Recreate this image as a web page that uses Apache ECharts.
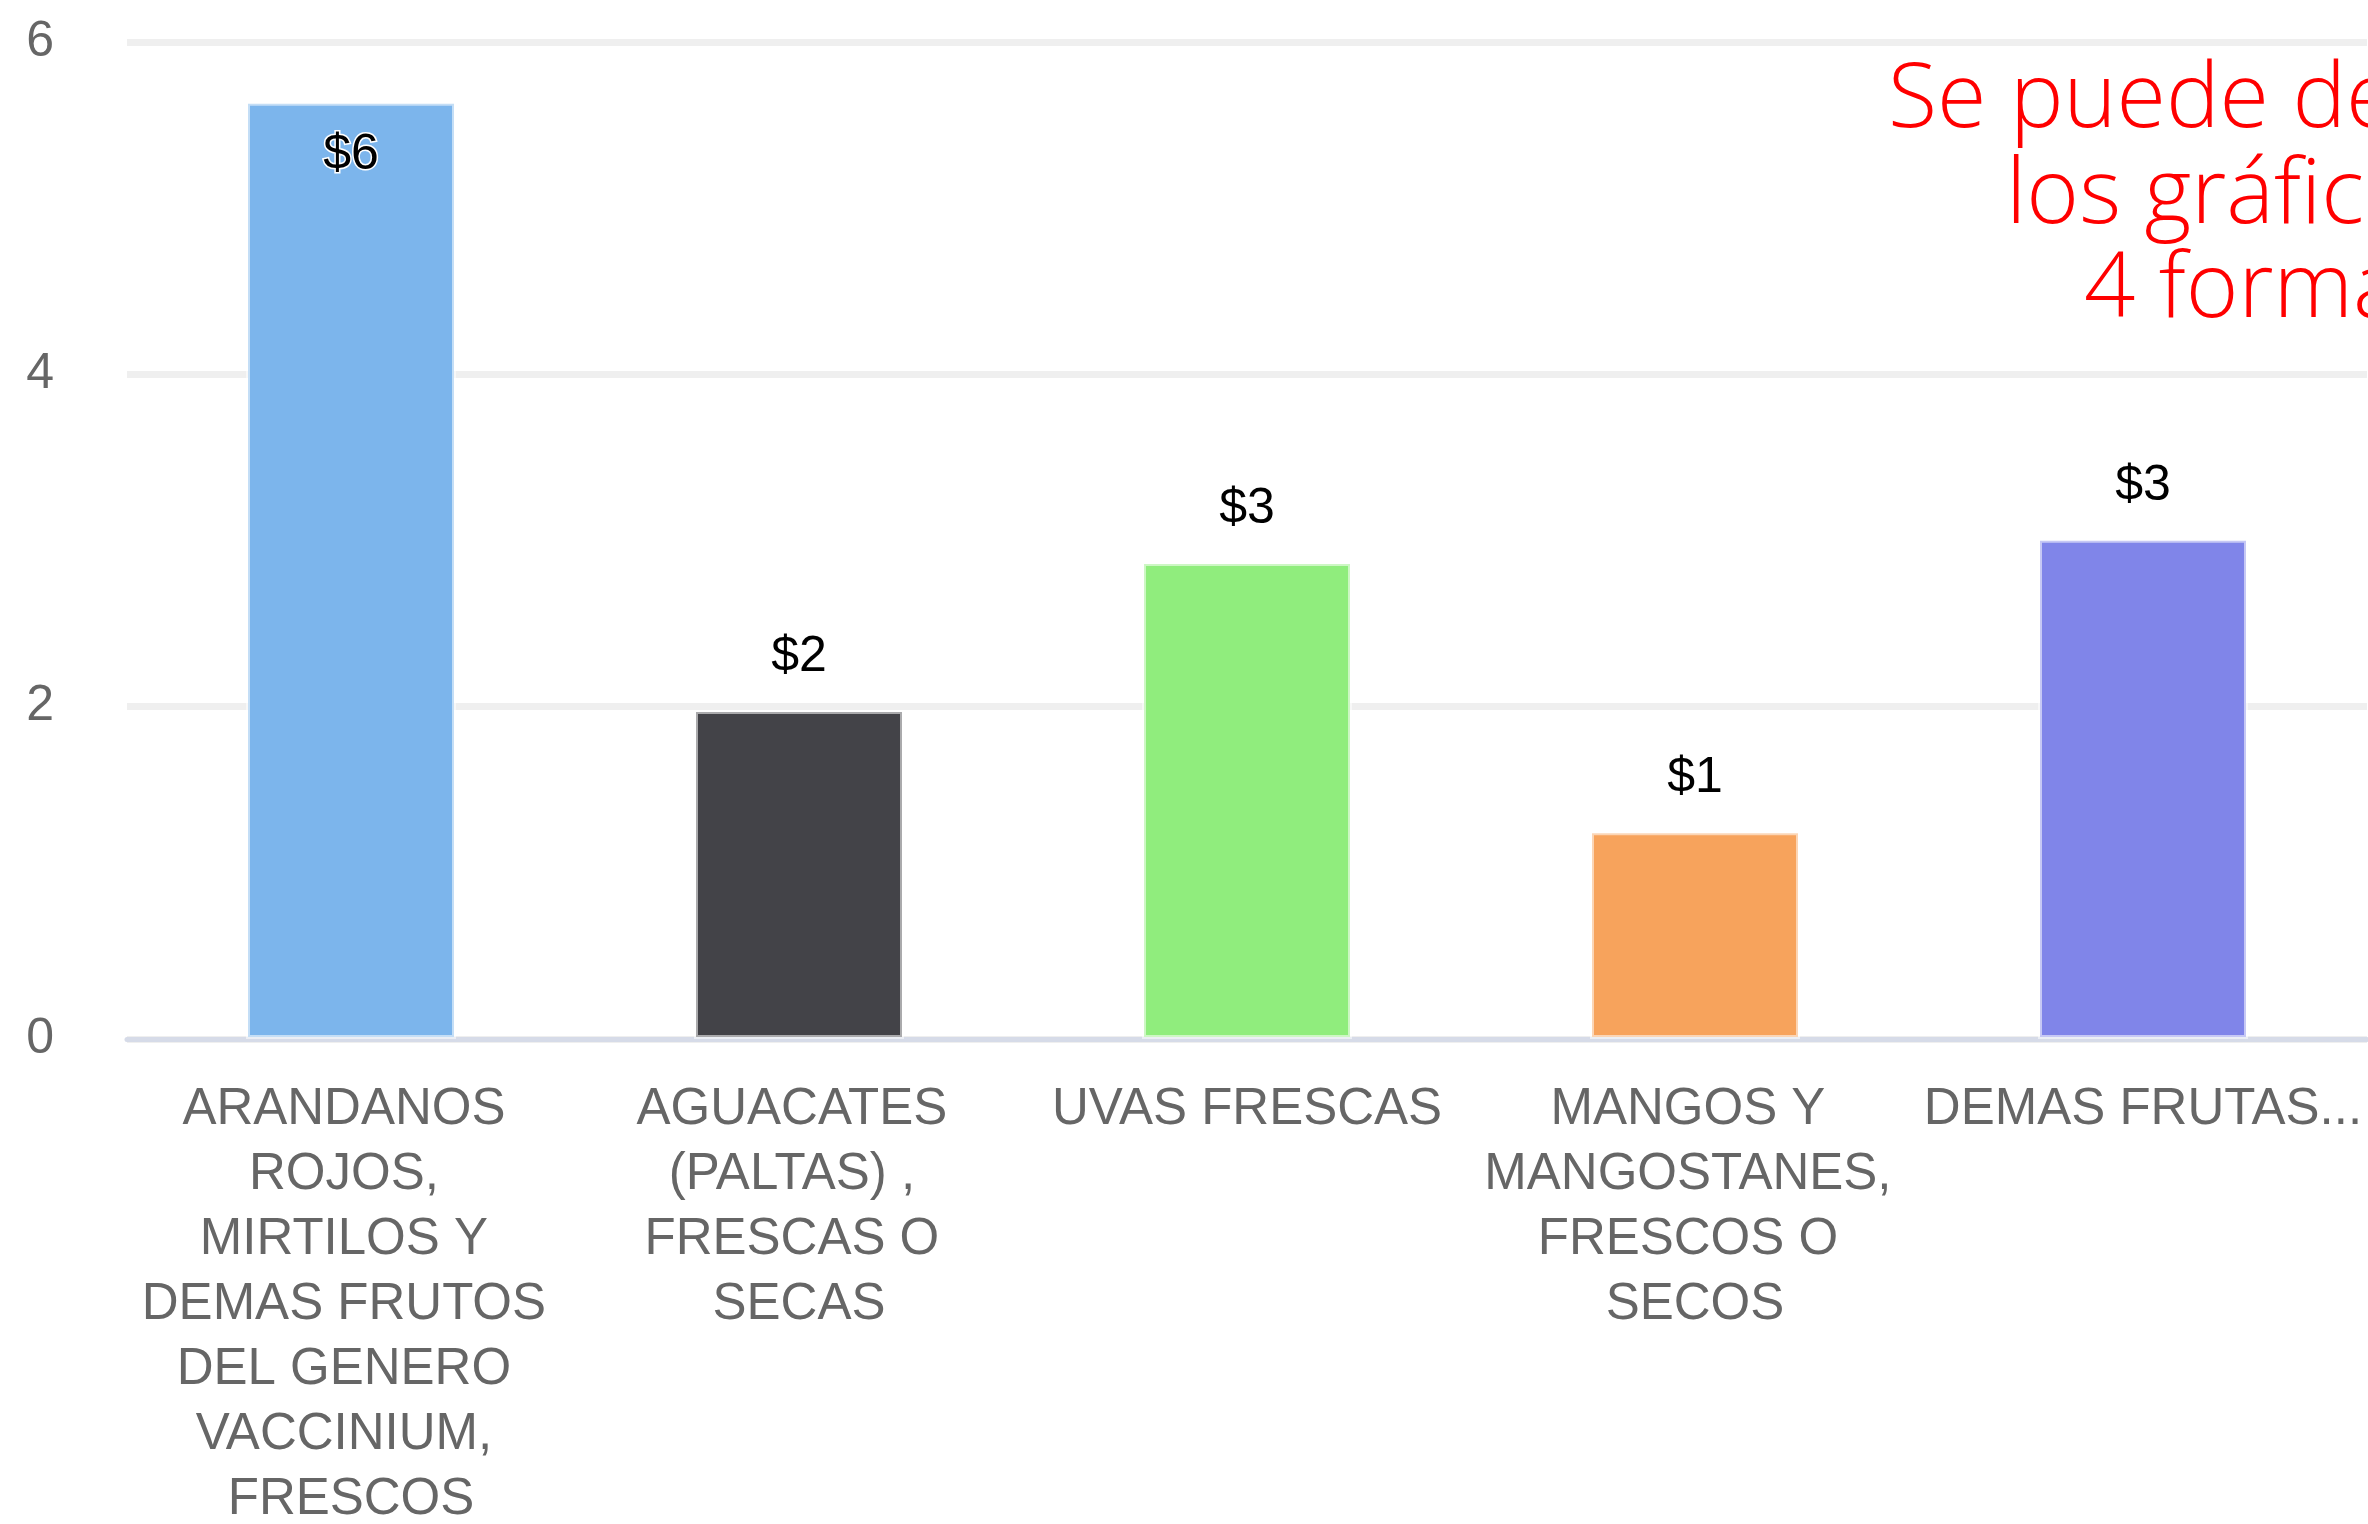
<!DOCTYPE html>
<html>
<head>
<meta charset="utf-8">
<title>Frutas</title>
<script src="https://cdn.jsdelivr.net/npm/echarts@6/dist/echarts.min.js"></script>
<style>
  html, body { margin: 0; padding: 0; background: #fff; }
  #chart { width: 2368px; height: 1524px; }
</style>
</head>
<body>
<div id="chart"></div>
<script>
// categorias (eje x)
const categories = [
  'ARANDANOS ROJOS, MIRTILOS Y DEMAS FRUTOS DEL GENERO VACCINIUM, FRESCOS',
  'AGUACATES (PALTAS) , FRESCAS O SECAS',
  'UVAS FRESCAS',
  'MANGOS Y MANGOSTANES, FRESCOS O SECOS',
  'DEMAS FRUTAS...'
];
// valores
const values = [5.64, 1.98, 2.87, 1.25, 3.01];
// colores de cada barra
const barColors = ['#7cb5ec', '#434348', '#90ed7d', '#f7a35c', '#8085e9'];
// ticks eje y
const yMin = 0;
const yMax = 6;
const yStep = 2;
// nota en rojo (recortada en el borde)
const noteLines = ['Se puede descargar', 'los gráficos en', '4 formatos'];

const chart = echarts.init(document.getElementById('chart'));

const noteFont = '300 90px "Open Sans"';

const option = {
  animation: false,
  grid: {
    left: 127,
    right: 1,
    top: 42,
    bottom: 485,
    containLabel: false,
    outerBoundsMode: 'none'
  },
  xAxis: {
    type: 'category',
    // la ultima etiqueta va en una sola linea
    data: categories.map((c, i) => i === categories.length - 1
      ? { value: c, textStyle: { width: 520 } }
      : c),
    axisTick: { show: false },
    axisLine: { lineStyle: { color: '#d6dbe8', width: 5 } },
    axisLabel: {
      interval: 0,
      color: '#666666',
      fontFamily: 'Liberation Sans',
      fontSize: 51,
      lineHeight: 65,
      width: 440,
      overflow: 'break',
      margin: 38
    }
  },
  yAxis: {
    type: 'value',
    min: yMin,
    max: yMax,
    interval: yStep,
    axisLine: { show: false },
    axisTick: { show: false },
    splitLine: { lineStyle: { color: '#efefef', width: 7 } },
    axisLabel: {
      color: '#666666',
      fontFamily: 'Liberation Sans',
      fontSize: 50,
      margin: 73
    }
  },
  series: [
    {
      type: 'bar',
      barWidth: 210,
      data: values.map((v, i) => ({
        value: v,
        itemStyle: { color: barColors[i] },
        // la barra mas alta lleva la etiqueta dentro
        label: { position: v > yMax - 0.6 ? 'insideTop' : 'top' }
      })),
      itemStyle: {
        borderColor: 'rgba(255,255,255,0.55)',
        borderWidth: 4
      },
      label: {
        show: true,
        distance: 28,
        color: '#000',
        fontFamily: 'Liberation Sans',
        fontSize: 50,
        textBorderColor: '#fff',
        textBorderWidth: 3,
        formatter: p => '$' + Math.round(p.value)
      }
    }
  ],
  graphic: [
    { type: 'text', left: 1888, top: 56, style: { text: noteLines[0], fill: '#ff0000', font: noteFont } },
    { type: 'text', left: 2006, top: 152, style: { text: noteLines[1], fill: '#ff0000', font: noteFont } },
    { type: 'text', left: 2084, top: 246, style: { text: noteLines[2], fill: '#ff0000', font: noteFont } }
  ]
};

chart.setOption(option);
</script>
</body>
</html>
